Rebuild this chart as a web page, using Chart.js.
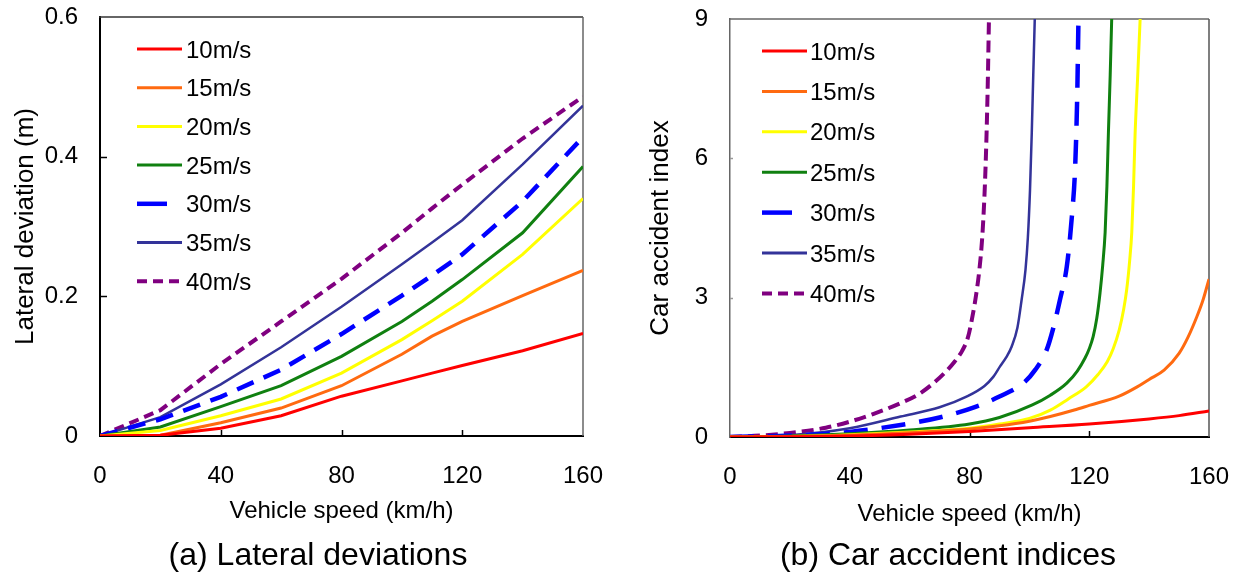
<!DOCTYPE html>
<html>
<head>
<meta charset="utf-8">
<script src="https://cdn.jsdelivr.net/npm/chart.js@4.4.0/dist/chart.umd.min.js"></script>
<style>
html,body{margin:0;padding:0;background:#fff;width:1241px;height:579px;overflow:hidden}
#pa{position:absolute;left:0;top:0;width:620px;height:579px}
#pb{position:absolute;left:620px;top:0;width:621px;height:579px}
canvas{display:block}
</style>
</head>
<body>
<div id="pa"><canvas id="ca" width="620" height="579"></canvas></div>
<div id="pb"><canvas id="cb" width="621" height="579"></canvas></div>
<script>
// ---------------- DATA ----------------
const seriesLabels = ['10m/s', '15m/s', '20m/s', '25m/s', '30m/s', '35m/s', '40m/s'];

// (a) Lateral deviations — common speeds (km/h)
const speedsLat = [0, 20, 40, 60, 80, 100, 110, 120, 140, 160];
const lat10 = [0, 0.001, 0.011, 0.029, 0.057, 0.079, 0.090, 0.101, 0.122, 0.147];
const lat15 = [0, 0.001, 0.019, 0.040, 0.072, 0.117, 0.143, 0.164, 0.201, 0.237];
const lat20 = [0, 0.008, 0.029, 0.053, 0.090, 0.138, 0.165, 0.193, 0.260, 0.340];
const lat25 = [0, 0.013, 0.042, 0.072, 0.114, 0.164, 0.193, 0.224, 0.291, 0.386];
const lat30 = [0, 0.024, 0.056, 0.095, 0.146, 0.201, 0.230, 0.260, 0.336, 0.428];
const lat35 = [0, 0.027, 0.074, 0.127, 0.185, 0.246, 0.277, 0.309, 0.389, 0.473];
const lat40 = [0, 0.037, 0.103, 0.164, 0.225, 0.291, 0.326, 0.360, 0.426, 0.486];

// (b) Car accident indices — each series with its own speeds (km/h)
const spd10 = [0, 20, 40, 60, 80, 100, 120, 140, 150, 160];
const acc10 = [0, 0.005, 0.02, 0.06, 0.12, 0.20, 0.28, 0.39, 0.46, 0.56];
const spd15 = [0, 20, 40, 60, 80, 90, 100, 107, 115, 120, 130, 136, 140, 145, 150, 153, 156, 158, 160];
const acc15 = [0, 0.01, 0.04, 0.09, 0.17, 0.24, 0.34, 0.44, 0.58, 0.68, 0.88, 1.08, 1.24, 1.44, 1.80, 2.15, 2.60, 2.95, 3.40];
const spd20 = [0, 20, 40, 60, 80, 90, 100, 107, 113, 119, 123, 126, 128, 130, 131.5, 132.5, 133.5, 134.2, 134.8, 135.3, 136.2, 137, 137.4];
const acc20 = [0, 0.01, 0.05, 0.11, 0.19, 0.28, 0.40, 0.58, 0.82, 1.08, 1.35, 1.62, 1.90, 2.30, 2.75, 3.17, 3.80, 4.40, 5.40, 6.50, 7.80, 9.00, 9.60];
const spd25 = [0, 20, 40, 60, 80, 90, 101, 107, 112.5, 116, 118.6, 120, 121.3, 122.5, 123.6, 124.5, 125.3, 125.9, 126.4, 127, 127.5, 127.8];
const acc25 = [0, 0.02, 0.07, 0.15, 0.28, 0.42, 0.69, 0.90, 1.16, 1.42, 1.70, 1.90, 2.16, 2.55, 3.10, 3.70, 4.40, 5.40, 6.55, 7.80, 9.00, 9.60];
const spd30 = [0, 20, 40, 57, 70, 82, 90, 98, 102, 105.8, 108, 110.2, 112.5, 114.2, 115.3, 116, 116.4, 116.6];
const acc30 = [0, 0.03, 0.11, 0.26, 0.42, 0.65, 0.87, 1.16, 1.45, 1.88, 2.35, 2.95, 3.67, 4.75, 5.83, 7.40, 9.00, 9.60];
const spd35 = [0, 20, 40, 57, 70, 79, 85, 88, 90.2, 92.3, 94.1, 96, 97.4, 98.7, 99.5, 100.2, 100.8, 101.3, 101.8, 102];
const acc35 = [0, 0.04, 0.19, 0.44, 0.64, 0.87, 1.10, 1.30, 1.52, 1.72, 1.95, 2.35, 2.95, 3.60, 4.30, 5.30, 6.55, 7.80, 9.00, 9.60];
const spd40 = [0, 10, 23, 32, 40, 48, 57, 63, 68, 72, 75, 77.5, 79.5, 81, 82.3, 83.3, 84.2, 85, 85.6, 86.1, 86.5, 86.7];
const acc40 = [0, 0.03, 0.11, 0.20, 0.33, 0.50, 0.73, 0.92, 1.16, 1.40, 1.62, 1.85, 2.15, 2.60, 3.10, 3.60, 4.25, 5.20, 6.30, 7.60, 9.00, 9.60];

// ---------------- STYLE ----------------
const FONT = '"Liberation Sans", Arial, Helvetica, sans-serif';
Chart.defaults.font.family = FONT;
Chart.defaults.color = '#000';

const colors = ['#ff0000', '#ff6a10', '#ffff00', '#108010', '#0000ff', '#333399', '#800080'];
const widths = [3, 3, 3, 3, 4.5, 2.5, 4];

function pts(xs, ys) { return xs.map((x, i) => ({ x: x, y: ys[i] })); }

function makeDatasets(series, dashes, legendDashes, legendLens, monotone) {
  return series.map((d, i) => ({
    label: seriesLabels[i],
    data: d,
    borderColor: colors[i],
    backgroundColor: colors[i],
    borderWidth: widths[i],
    borderDash: dashes[i],
    legendDash: legendDashes[i],
    legendLen: legendLens[i],
    pointRadius: 0,
    tension: 0,
    cubicInterpolationMode: monotone ? 'monotone' : 'default',
    fill: false
  }));
}

// ---------------- PLUGINS ----------------
const framePlugin = {
  id: 'frame',
  beforeDatasetsDraw(chart, args, o) {
    const { ctx, chartArea: { left, right, top, bottom }, scales: { x, y } } = chart;
    ctx.save();
    ctx.lineCap = 'butt';
    ctx.strokeStyle = o.topColor; ctx.lineWidth = o.frameWidth;
    ctx.beginPath(); ctx.moveTo(left - 1, top); ctx.lineTo(right, top); ctx.stroke();
    ctx.strokeStyle = o.rightColor;
    ctx.beginPath(); ctx.moveTo(right, top); ctx.lineTo(right, bottom); ctx.stroke();
    ctx.strokeStyle = o.tickColor; ctx.lineWidth = o.tickWidth;
    x.ticks.forEach(t => {
      if (t.value <= x.min || t.value >= x.max) return;
      const px = Math.round(x.getPixelForValue(t.value)) + 0.5;
      ctx.beginPath(); ctx.moveTo(px, bottom); ctx.lineTo(px, bottom - o.xTickLen); ctx.stroke();
    });
    ctx.strokeStyle = o.yTickColor;
    y.ticks.forEach(t => {
      if (t.value <= y.min || t.value >= y.max) return;
      const py = Math.round(y.getPixelForValue(t.value)) + 0.5;
      ctx.beginPath(); ctx.moveTo(left, py); ctx.lineTo(left + o.yTickLen, py); ctx.stroke();
    });
    ctx.restore();
  }
};

const innerLegend = {
  id: 'innerLegend',
  afterDraw(chart, args, o) {
    const ctx = chart.ctx;
    chart.data.datasets.forEach((ds, i) => {
      const y = o.y0 + i * o.dy;
      ctx.save();
      ctx.strokeStyle = ds.borderColor;
      ctx.lineWidth = ds.borderWidth < 3 ? 3 : ds.borderWidth;
      ctx.setLineDash(ds.legendDash || []);
      ctx.beginPath();
      ctx.moveTo(o.x1, y);
      ctx.lineTo(o.x1 + (ds.legendLen || o.len), y);
      ctx.stroke();
      ctx.setLineDash([]);
      ctx.fillStyle = '#000';
      ctx.font = o.size + 'px ' + FONT;
      ctx.textAlign = 'left';
      ctx.textBaseline = 'middle';
      ctx.fillText(ds.label, o.tx, y + 2);
      ctx.restore();
    });
  }
};

const caption = {
  id: 'caption',
  afterDraw(chart, args, o) {
    const ctx = chart.ctx;
    ctx.save();
    ctx.fillStyle = '#000';
    ctx.font = o.size + 'px ' + FONT;
    ctx.textAlign = 'center';
    ctx.textBaseline = 'middle';
    ctx.fillText(o.text, o.x, o.y);
    ctx.restore();
  }
};

function axisX(tickGap, titlePadBottom, height) {
  return {
    type: 'linear', min: 0, max: 160,
    ticks: { stepSize: 40, padding: 0, font: { size: 24 }, color: '#000', maxRotation: 0, autoSkip: false },
    grid: { display: false, drawTicks: true, tickLength: tickGap },
    border: { display: true, color: '#000', width: 2 },
    title: { display: true, text: 'Vehicle speed (km/h)', font: { size: 24 }, color: '#000', padding: { top: 0, bottom: titlePadBottom } },
    afterFit(s) { s.height = height; }
  };
}

// ---------------- CHART (a) ----------------
new Chart(document.getElementById('ca'), {
  type: 'line',
  data: {
    datasets: makeDatasets(
      [pts(speedsLat, lat10), pts(speedsLat, lat15), pts(speedsLat, lat20), pts(speedsLat, lat25),
       pts(speedsLat, lat30), pts(speedsLat, lat35), pts(speedsLat, lat40)],
      [[], [], [], [], [18, 11], [], [10, 6]],
      [[], [], [], [], [], [], [10, 6]],
      [45, 45, 45, 45, 30, 45, 42],
      false)
  },
  options: {
    responsive: false, animation: false, events: [],
    layout: { padding: { left: 0, top: 17, right: 37, bottom: 43 } },
    plugins: {
      legend: { display: false }, tooltip: { enabled: false },
      frame: { topColor: '#333', rightColor: '#666', frameWidth: 1.5, tickColor: '#000', yTickColor: '#000', tickWidth: 1.5, xTickLen: 6, yTickLen: 7 },
      innerLegend: { x1: 137, len: 45, tx: 186, y0: 49, dy: 38.7, size: 24 },
      caption: { text: '(a) Lateral deviations', x: 318, y: 556, size: 32 }
    },
    scales: {
      x: axisX(26, 10, 100),
      y: {
        min: 0, max: 0.6,
        ticks: { stepSize: 0.2, padding: 0, font: { size: 24 }, color: '#000' },
        grid: { display: false, drawTicks: true, tickLength: 22 },
        border: { display: true, color: '#000', width: 2 },
        title: { display: true, text: 'Lateral deviation (m)', font: { size: 26 }, color: '#000', padding: { top: 10, bottom: 0 } },
        afterFit(s) { s.width = 100; }
      }
    }
  },
  plugins: [framePlugin, innerLegend, caption]
});

// ---------------- CHART (b) ----------------
new Chart(document.getElementById('cb'), {
  type: 'line',
  data: {
    datasets: makeDatasets(
      [pts(spd10, acc10), pts(spd15, acc15), pts(spd20, acc20), pts(spd25, acc25),
       pts(spd30, acc30), pts(spd35, acc35), pts(spd40, acc40)],
      [[], [], [], [], [24, 14], [], [12, 6]],
      [[], [], [], [], [], [], [10, 6]],
      [45, 45, 45, 45, 30, 45, 42],
      true)
  },
  options: {
    responsive: false, animation: false, events: [],
    layout: { padding: { left: 0, top: 19, right: 32, bottom: 42 } },
    plugins: {
      legend: { display: false }, tooltip: { enabled: false },
      frame: { topColor: '#666', rightColor: '#555', frameWidth: 1.5, tickColor: '#000', yTickColor: '#999', tickWidth: 1.5, xTickLen: 6, yTickLen: 3 },
      innerLegend: { x1: 142, len: 45, tx: 190, y0: 51, dy: 40.4, size: 24 },
      caption: { text: '(b) Car accident indices', x: 328, y: 556, size: 32 }
    },
    scales: {
      x: axisX(26, 8, 100),
      y: {
        min: 0, max: 9,
        ticks: { stepSize: 3, padding: 0, font: { size: 24 }, color: '#000' },
        grid: { display: false, drawTicks: true, tickLength: 22 },
        border: { display: true, color: '#666', width: 1.5 },
        title: { display: true, text: 'Car accident index', font: { size: 26 }, color: '#000', padding: { top: 25, bottom: 0 } },
        afterFit(s) { s.width = 110; }
      }
    }
  },
  plugins: [framePlugin, innerLegend, caption]
});
</script>
</body>
</html>
